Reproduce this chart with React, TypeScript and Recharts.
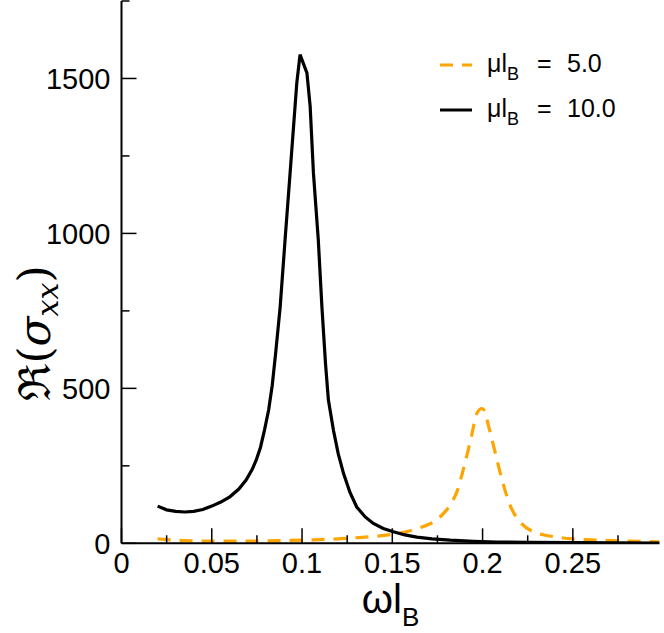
import React from "react";
import { LineChart, Line, XAxis, YAxis, Legend } from "recharts";

// ---- data ----
const mu10W = [0.020,0.025,0.030,0.035,0.040,0.045,0.050,0.055,0.060,0.065,0.069,0.0725,0.0746,0.077,0.0792,0.0815,0.0835,0.0855,0.0879,0.0906,0.0934,0.0971,0.0989,0.1027,0.1045,0.1063,0.1090,0.1110,0.1130,0.1146,0.1174,0.1200,0.1230,0.1265,0.1303,0.1350,0.1395,0.1450,0.1506,0.1570,0.1636,0.1720,0.1820,0.1950,0.2080,0.2250,0.2500,0.2750,0.2980];
const mu10S = [120,108,103,101,103,109,120,133,150,175,204,240,268,310,365,430,510,620,764,979,1196,1486,1577,1518,1410,1196,979,764,580,462,365,290,225,165,117,85,64,48,37,27,20,14,10,6.5,4,3,2,1.5,1];

const mu5W = [0.020,0.025,0.030,0.040,0.050,0.060,0.070,0.080,0.090,0.100,0.110,0.120,0.130,0.140,0.150,0.157,0.1636,0.1690,0.1728,0.1783,0.1820,0.1860,0.1894,0.1920,0.1940,0.1968,0.1996,0.2010,0.2032,0.2069,0.2106,0.2152,0.2208,0.2281,0.2340,0.2411,0.2500,0.2600,0.2750,0.2980];
const mu5S = [14,12,10,8,7,7,7,8,9,10,12,14,18,22,29,36,47,58,69,96,123,170,240,300,350,419,435,428,381,295,209,123,69,37,27,20,14,11,8,5];

const seriesNames = ["5.0", "10.0"];

const xTicks = [0,0.025,0.05,0.075,0.1,0.125,0.15,0.175,0.2,0.225,0.25,0.275];
const xMajor = [0,0.05,0.1,0.15,0.2,0.25];
const xLabels = ["0","0.05","0.1","0.15","0.2","0.25"];
const yTicks = [0,250,500,750,1000,1250,1500,1750];
const yMajor = [0,500,1000,1500];
const yLabels = ["0","500","1000","1500"];

const mu5Data = mu5W.map((w, i) => ({ w, s: mu5S[i] }));
const mu10Data = mu10W.map((w, i) => ({ w, s: mu10S[i] }));

const FONT = "'Liberation Sans', Arial, Helvetica, sans-serif";
const ORANGE = "#FFA500";
const seriesColors = [ORANGE, "#000000"];
const seriesDashes = ["13 9", undefined];

const majorIndex = (v: number, arr: number[]) =>
  arr.findIndex((m) => Math.abs(m - v) < 1e-9);

const BottomTick = (p: any) => {
  const { x, y, payload } = p;
  const idx = majorIndex(payload.value, xMajor);
  const len = idx >= 0 ? 15 : 8;
  return (
    <g>
      <line x1={x} x2={x} y1={y} y2={y - len} stroke="#000" strokeWidth={1.5} />
      {idx >= 0 && (
        <text x={x} y={y + 30} textAnchor="middle" fontSize={29} fontFamily={FONT} fill="#000">
          {xLabels[idx]}
        </text>
      )}
    </g>
  );
};

const TopTick = (p: any) => {
  const { x, y, payload } = p;
  const idx = majorIndex(payload.value, xMajor);
  const len = idx >= 0 ? 15 : 8;
  return <line x1={x} x2={x} y1={y} y2={y + len} stroke="#000" strokeWidth={1.5} />;
};

const LeftTick = (p: any) => {
  const { x, y, payload } = p;
  const idx = majorIndex(payload.value, yMajor);
  const len = idx >= 0 ? 15 : 8;
  return (
    <g>
      <line x1={x} x2={x + len} y1={y} y2={y} stroke="#000" strokeWidth={1.5} />
      {idx >= 0 && (
        <text x={x - 11} y={y + 10.5} textAnchor="end" fontSize={29} fontFamily={FONT} fill="#000">
          {yLabels[idx]}
        </text>
      )}
    </g>
  );
};

const RightTick = (p: any) => {
  const { x, y, payload } = p;
  const idx = majorIndex(payload.value, yMajor);
  const len = idx >= 0 ? 15 : 8;
  return <line x1={x} x2={x - len} y1={y} y2={y} stroke="#000" strokeWidth={1.5} />;
};

const XLabel = (p: any) => {
  const vb = p.viewBox || {};
  const cx = vb.x + vb.width / 2;
  return (
    <text x={cx} y={613} textAnchor="middle" fontFamily={FONT} fill="#000">
      <tspan fontSize={40}>ωl</tspan>
      <tspan fontSize={26} dy={13}>B</tspan>
    </text>
  );
};

const YLabel = () => (
  <text transform="translate(50,333) rotate(-90)" textAnchor="middle" fill="#000" fontFamily="'DejaVu Serif', serif">
    <tspan fontSize={44}>ℜ(</tspan>
    <tspan fontSize={44} fontStyle="italic">σ</tspan>
    <tspan fontSize={30} fontStyle="italic" dy={8}>xx</tspan>
    <tspan fontSize={44} dy={-8}>)</tspan>
  </text>
);

const renderLegend = (props: any) => {
  const payload = [...(props.payload || [])].sort(
    (a: any, b: any) => seriesNames.indexOf(a.value) - seriesNames.indexOf(b.value)
  );
  return (
    <svg width={230} height={110} style={{ display: "block", overflow: "visible" }}>
      {payload.map((e: any, i: number) => {
        const k = seriesNames.indexOf(e.value);
        const cy = 35 + i * 45;
        return (
          <g key={i}>
            <line x1={10} x2={42} y1={cy} y2={cy} stroke={seriesColors[k]} strokeWidth={3} strokeDasharray={seriesDashes[k]} />
            <text y={cy + 7} fontFamily={FONT} fill="#000">
              <tspan x={57} fontSize={25}>μl</tspan>
              <tspan fontSize={18} dy={8}>B</tspan>
              <tspan x={107} fontSize={25} dy={-8}>=</tspan>
              <tspan x={137} fontSize={25}>{e.value}</tspan>
            </text>
          </g>
        );
      })}
    </svg>
  );
};

export default function App() {
  return (
    <div style={{ position: "absolute", left: 0, top: 0, width: 664, height: 633, background: "#fff" }}>
      <LineChart width={664} height={633} margin={{ top: 1, right: 4.5, bottom: 0, left: 0 }}>
        <XAxis
          xAxisId="b"
          dataKey="w"
          type="number"
          domain={[0, 0.298]}
          allowDataOverflow
          ticks={xTicks}
          interval={0}
          height={89.7}
          tickSize={0}
          tickMargin={0}
          tickLine={false}
          axisLine={{ stroke: "#000", strokeWidth: 2 }}
          tick={<BottomTick />}
          label={<XLabel />}
        />
        <XAxis
          xAxisId="t"
          orientation="top"
          type="number"
          domain={[0, 0.298]}
          allowDataOverflow
          ticks={xTicks}
          interval={0}
          height={0}
          tickSize={0}
          tickMargin={0}
          tickLine={false}
          axisLine={{ stroke: "#000", strokeWidth: 2 }}
          tick={<TopTick />}
        />
        <YAxis
          yAxisId="l"
          type="number"
          domain={[0, 1750]}
          allowDataOverflow
          ticks={yTicks}
          interval={0}
          width={121.5}
          tickSize={0}
          tickMargin={0}
          tickLine={false}
          axisLine={{ stroke: "#000", strokeWidth: 2 }}
          tick={<LeftTick />}
          label={<YLabel />}
        />
        <YAxis
          yAxisId="r"
          orientation="right"
          type="number"
          domain={[0, 1750]}
          allowDataOverflow
          ticks={yTicks}
          interval={0}
          width={0}
          tickSize={0}
          tickMargin={0}
          tickLine={false}
          axisLine={{ stroke: "#000", strokeWidth: 2 }}
          tick={<RightTick />}
        />
        <Line
          xAxisId="b"
          yAxisId="l"
          data={mu5Data}
          dataKey="s"
          name={seriesNames[0]}
          type="monotone"
          stroke={seriesColors[0]}
          strokeWidth={3.2}
          strokeDasharray={seriesDashes[0]}
          dot={false}
          activeDot={false}
          isAnimationActive={false}
        />
        <Line
          xAxisId="b"
          yAxisId="l"
          data={mu10Data}
          dataKey="s"
          name={seriesNames[1]}
          type="linear"
          stroke={seriesColors[1]}
          strokeWidth={3.2}
          dot={false}
          activeDot={false}
          isAnimationActive={false}
        />
        <Legend
          layout="horizontal"
          verticalAlign="middle"
          align="center"
          wrapperStyle={{ left: 430, top: 30, width: 230, height: 110 }}
          content={renderLegend}
        />
      </LineChart>
    </div>
  );
}
